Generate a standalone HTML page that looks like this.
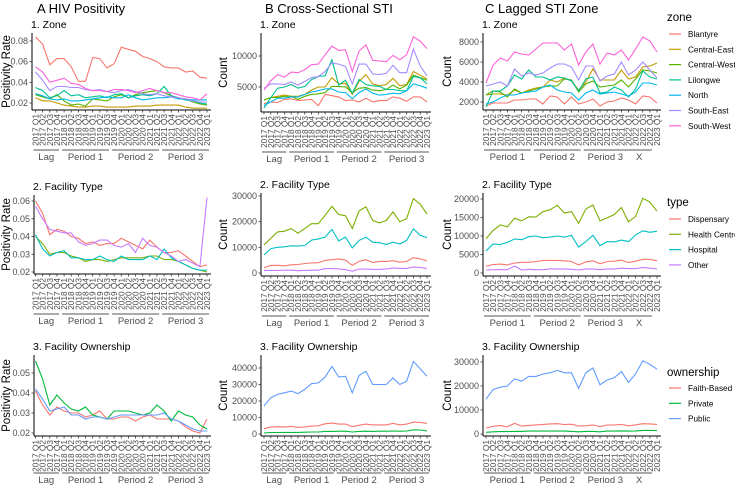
<!DOCTYPE html>
<html><head><meta charset="utf-8"><style>
body{margin:0;background:#fff;}
svg{display:block;font-family:"Liberation Sans",sans-serif;}
</style></head><body>
<svg id="chart" width="735" height="488" viewBox="0 0 735 488" xmlns="http://www.w3.org/2000/svg"></svg>
<script>
const quarters = [];
for (let y=2017;y<=2023;y++) for (let q=1;q<=4;q++) if (!(y===2023&&q>1)) quarters.push(y+" Q"+q);

const zoneNames = ["Blantyre","Central-East","Central-West","Lilongwe","North","South-East","South-West"];
const typeNames = ["Dispensary","Health Centre","Hospital","Other"];
const ownNames = ["Faith-Based","Private","Public"];

const a1Blantyre=[0.084,0.077,0.057,0.063,0.063,0.055,0.041,0.041,0.064,0.063,0.054,0.058,0.074,0.072,0.070,0.065,0.063,0.060,0.055,0.054,0.054,0.050,0.051,0.045,0.044];
const a1CentralEast=[0.025,0.022,0.022,0.020,0.018,0.017,0.016,0.016,0.017,0.017,0.016,0.016,0.016,0.016,0.017,0.017,0.017,0.018,0.018,0.018,0.018,0.016,0.015,0.015,0.015];
const a1CentralWest=[0.028,0.026,0.024,0.028,0.022,0.018,0.019,0.017,0.024,0.023,0.022,0.026,0.028,0.025,0.028,0.030,0.031,0.032,0.030,0.027,0.025,0.024,0.021,0.019,0.018];
const a1Lilongwe=[0.035,0.032,0.025,0.027,0.032,0.027,0.028,0.025,0.026,0.027,0.025,0.028,0.029,0.025,0.027,0.028,0.027,0.029,0.036,0.027,0.025,0.023,0.022,0.020,0.019];
const a1North=[0.029,0.027,0.024,0.023,0.024,0.022,0.022,0.023,0.024,0.025,0.026,0.025,0.025,0.028,0.025,0.023,0.024,0.025,0.025,0.026,0.024,0.024,0.023,0.023,0.023];
const a1SouthEast=[0.050,0.042,0.032,0.036,0.036,0.035,0.035,0.033,0.032,0.033,0.031,0.030,0.032,0.033,0.031,0.029,0.028,0.029,0.027,0.026,0.025,0.024,0.022,0.021,0.021];
const a1SouthWest=[0.055,0.050,0.040,0.042,0.044,0.039,0.038,0.034,0.032,0.032,0.031,0.033,0.033,0.032,0.030,0.032,0.034,0.032,0.030,0.030,0.028,0.026,0.025,0.023,0.029];

const b1Blantyre=[2300,2600,2500,3000,3100,2800,2900,3000,2000,3800,3600,3400,2800,2900,2600,3200,2600,2800,2800,3400,3200,2700,3400,3400,2600];
const b1CentralEast=[2900,3300,3500,3700,3500,3500,3800,4500,5000,5000,6500,5500,5600,3800,5900,7000,5500,5200,5400,6400,5200,5400,7500,6900,6300];
const b1CentralWest=[2900,3300,3300,3500,3500,3000,3500,3800,3900,4100,5100,5100,5000,4100,4800,4900,4500,4400,4600,5300,4700,5300,6900,6500,6100];
const b1Lilongwe=[1600,3300,4800,5000,5400,4800,5100,6200,6700,6800,9400,5300,6100,4000,6200,5400,5200,5100,4600,4600,4400,4400,6700,6500,5500];
const b1North=[2000,2600,3200,3200,3400,3400,3800,4200,4400,4700,4700,4200,4100,3100,4100,4700,4000,3700,3800,4000,3900,4400,5500,5200,4800];
const b1SouthEast=[4800,5500,5500,5400,5800,5300,5900,6500,6700,7500,8900,8700,8300,5500,8700,8700,7100,7000,7200,8500,7300,7300,11100,8400,6800];
const b1SouthWest=[4500,6000,7000,6600,7400,7300,7800,8600,8700,10200,11600,10900,11000,7500,10800,11800,9300,9200,9100,10100,9400,10200,13100,12400,11200];

const c1Blantyre=[1600,1900,1900,1900,2200,2200,2300,2300,1800,2600,2500,1800,2500,1800,2000,2300,1600,2000,2100,2400,2200,1800,2600,2500,1900];
const c1CentralEast=[2700,2800,2800,2700,3200,2900,3200,3400,3500,4200,4000,4400,4100,3200,4000,5300,4200,4200,4200,5200,4300,4500,5500,5600,5900];
const c1CentralWest=[2700,3100,3000,2500,3300,2900,3100,3300,3500,3600,3600,4300,4200,3000,3800,4100,3500,3600,3700,4200,3500,4300,5200,5100,4900];
const c1Lilongwe=[1500,3100,3100,3600,4700,4300,5200,4500,4500,4200,4500,4400,4100,3100,4300,4500,2900,3000,3500,3200,2500,3300,5100,4500,4300];
const c1North=[1800,2000,2400,2700,2700,2900,3000,3100,3500,3700,3200,3000,2900,2200,2900,3200,2800,2900,3000,2800,2600,3000,3900,3900,3700];
const c1SouthEast=[3600,3800,4000,3600,5300,4600,4900,4700,4900,5400,5800,5800,5500,4200,5600,5600,4100,4600,4800,6000,4700,5200,6000,5200,4400];
const c1SouthWest=[3900,5700,6400,6100,7000,6800,6700,7300,7900,7900,7900,7200,7800,5700,7000,7800,5800,6900,6700,7200,6200,7300,8500,8100,7000];

const a2Dispensary=[0.060,0.053,0.041,0.044,0.043,0.040,0.039,0.036,0.037,0.035,0.036,0.036,0.039,0.037,0.035,0.033,0.038,0.034,0.031,0.031,0.032,0.029,0.026,0.023,0.024];
const a2HealthCentre=[0.040,0.036,0.030,0.031,0.031,0.029,0.028,0.026,0.027,0.027,0.026,0.027,0.028,0.028,0.028,0.028,0.029,0.029,0.027,0.027,0.026,0.024,0.022,0.021,0.020];
const a2Hospital=[0.041,0.033,0.029,0.031,0.032,0.028,0.028,0.027,0.027,0.029,0.027,0.026,0.029,0.027,0.027,0.027,0.029,0.027,0.033,0.028,0.026,0.024,0.022,0.021,0.021];
const a2Other=[0.057,0.050,0.044,0.043,0.042,0.042,0.037,0.035,0.036,0.038,0.038,0.035,0.034,0.036,0.031,0.039,0.035,0.034,0.031,0.029,0.026,0.027,0.025,0.023,0.062];

const b2Dispensary=[2000,3000,3000,2800,3200,3300,3700,3900,4000,4900,5200,5500,5000,3000,4500,5200,4100,4500,4500,4800,4200,4500,6000,5500,4700];
const b2HealthCentre=[11000,13500,16000,16300,17300,15500,17300,19200,19200,22500,26000,22800,22300,17300,24200,25800,20500,19500,20500,23800,20000,21200,29000,26800,23000];
const b2Hospital=[7000,9500,10000,10200,10600,10500,10700,12800,13300,14000,17000,12500,14000,9800,12700,14000,12000,11800,11100,12000,11300,12700,17200,14700,13800];
const b2Other=[1000,1000,1000,1100,1100,900,1000,1100,1100,1700,1700,1600,1300,700,1500,1500,1400,1400,1600,2000,1800,1800,2300,2200,1700];

const c2Dispensary=[1800,2300,2400,2200,2700,2900,2900,3100,3400,3400,3400,3300,3100,2200,3000,3300,2500,3100,3200,3500,2800,3200,3700,3700,3300];
const c2HealthCentre=[9300,11500,13000,12500,14800,14100,15200,15100,16600,17100,18300,16200,16600,13400,17300,18400,14100,14900,15800,17700,13800,15300,20200,19200,16700];
const c2Hospital=[6000,7800,7700,8300,9200,9000,9800,10000,9500,9700,10000,9700,10200,7000,8500,10200,7400,8500,8400,8900,8500,10300,11400,11000,11300];
const c2Other=[800,900,900,900,1900,800,1000,900,900,1100,1100,1100,1000,800,1100,1100,900,1100,1100,1300,1200,1200,1500,1300,1100];

const a3FaithBased=[0.041,0.034,0.029,0.033,0.031,0.030,0.030,0.028,0.029,0.031,0.027,0.027,0.028,0.028,0.026,0.028,0.029,0.027,0.027,0.027,0.026,0.023,0.021,0.020,0.027];
const a3Private=[0.056,0.047,0.034,0.039,0.035,0.032,0.031,0.033,0.029,0.028,0.027,0.031,0.031,0.031,0.030,0.029,0.030,0.034,0.031,0.026,0.031,0.029,0.028,0.024,0.022];
const a3Public=[0.042,0.037,0.031,0.032,0.033,0.029,0.029,0.027,0.028,0.028,0.027,0.028,0.029,0.029,0.029,0.029,0.029,0.029,0.030,0.027,0.026,0.024,0.022,0.021,0.021];

const b3FaithBased=[3200,4200,4400,4300,4600,4000,4300,4800,5000,6200,6600,6000,6000,4500,5300,6000,5500,5500,5500,6500,5500,6000,7200,7000,6400];
const b3Private=[600,900,900,1000,1000,1000,1100,1200,1200,1600,1600,1700,1700,1200,1600,1700,1600,1700,1700,1800,1700,1800,2500,2400,1900];
const b3Public=[17000,22000,24000,25000,26000,24500,27000,30500,31000,34500,41000,34500,35000,25000,35500,38000,30000,30000,30000,34000,30000,32000,44000,39500,35000];

const c3FaithBased=[2500,3200,3500,3000,4400,3300,3600,3800,4000,4200,4300,3900,4100,3300,3400,3800,3100,3700,3800,4000,3400,3800,4300,4200,4000];
const c3Private=[700,900,1000,1000,1100,1100,1200,1200,1200,1200,1200,1200,1100,900,1100,1100,900,1200,1200,1300,1200,1300,1500,1500,1400];
const c3Public=[14500,18500,19500,20000,23000,22000,24000,24000,25000,25500,26500,25500,25500,19000,25500,27500,20500,22500,23500,26000,21500,25000,30500,29000,27000];

const ticksA1=[0.02,0.04,0.06,0.08];
const ticksB1=[5000,10000];
const ticksC1=[2000,4000,6000,8000];
const ticksA2=[0.02,0.03,0.04,0.05,0.06];
const ticksB2=[0,10000,20000,30000];
const ticksC2=[0,5000,10000,15000,20000];
const ticksA3=[0.02,0.03,0.04,0.05];
const ticksB3=[0,10000,20000,30000,40000];
const ticksC3=[0,10000,20000,30000];

const periodsAB=[["Lag",0,3],["Period 1",4,10],["Period 2",11,17],["Period 3",18,24]];
const periodsC=[["Period 1",0,6],["Period 2",7,13],["Period 3",14,19.5],["X",20,23]];

const zoneCols=["#F8766D","#C49A00","#53B400","#00C094","#00B6EB","#A58AFF","#FB61D7"];
const typeCols=["#F8766D","#7CAE00","#00BFC4","#C77CFF"];
const ownCols=["#F8766D","#00BA38","#619CFF"];

const svg=document.getElementById('chart');
const NS="http://www.w3.org/2000/svg";
function mk(tag,attrs,parent){const e=document.createElementNS(NS,tag);for(const k in attrs)e.setAttribute(k,attrs[k]);(parent||svg).appendChild(e);return e;}
function txt(s,attrs,parent){const e=mk('text',attrs,parent);e.textContent=s;return e;}

const headers=[["A  HIV Positivity",37],["B  Cross-Sectional STI",265],["C  Lagged STI Zone",485]];
headers.forEach(h=>{const t=txt(h[0],{x:h[1],y:13,'font-size':13,fill:'#000','xml:space':'preserve'});

});

function fmt(v,dec){return dec?v.toFixed(2):String(v);}

function panel(cfg){
  const g=mk('g',{});
  
  
  const n=quarters.length;
  const xs=i=>cfg.x1+(cfg.x2-cfg.x1)*i/(n-1);
  const ys=v=>cfg.p1+(v-cfg.v1)*(cfg.p2-cfg.p1)/(cfg.v2-cfg.v1);
  const st=txt(cfg.sub,{x:cfg.ax-1,y:cfg.top-5,'font-size':10.5,fill:'#000'},g);
  
  
  cfg.series.forEach((s,k)=>{
    const d=s.map((v,i)=>(i?'L':'M')+xs(i).toFixed(1)+','+ys(v).toFixed(1)).join('');
    const p=mk('path',{d:d,fill:'none',stroke:cfg.cols[k],'stroke-width':1.1},g);
    
    
  });
  const ya=mk('line',{x1:cfg.ax,y1:cfg.top,x2:cfg.ax,y2:cfg.bot,stroke:'#000','stroke-width':1},g);
  
  
  const xa=mk('line',{x1:cfg.ax,y1:cfg.bot,x2:cfg.x2+4,y2:cfg.bot,stroke:'#000','stroke-width':1},g);
  
  
  cfg.ticks.forEach(t=>{
    const y=ys(t);
    mk('line',{x1:cfg.ax-2.5,y1:y,x2:cfg.ax,y2:y,stroke:'#333','stroke-width':0.8},g);
    const tl=txt(fmt(t,cfg.dec),{x:cfg.ax-4,y:y+3,'font-size':9,fill:'#4d4d4d','text-anchor':'end'},g);
    
    
  });
  quarters.forEach((q,i)=>{
    const x=xs(i);
    mk('line',{x1:x,y1:cfg.bot,x2:x,y2:cfg.bot+2.5,stroke:'#333','stroke-width':0.8},g);
    const tl=txt(q,{x:0,y:0,'font-size':8.3,fill:'#4d4d4d','text-anchor':'end',transform:`translate(${(x+3).toFixed(1)},${cfg.bot+4}) rotate(-90)`},g);
    
    
  });
  const off=cfg.boff||40;
  cfg.periods.forEach(p=>{
    const xa1=xs(p[1])-2,xa2=xs(p[2])+2,yb=cfg.bot+off;
    const l=mk('line',{x1:xa1,y1:yb,x2:xa2,y2:yb,stroke:'#555','stroke-width':1},g);
    
    
    const t=txt(p[0],{x:(xa1+xa2)/2,y:yb+10,'font-size':9.5,fill:'#4d4d4d','text-anchor':'middle'},g);
    
    
  });
  if(cfg.ytitle){
    const yt=txt(cfg.ytitle,{x:0,y:0,'font-size':11.5,fill:'#000','text-anchor':'middle',transform:`translate(${cfg.ytx},${(cfg.top+cfg.bot)/2}) rotate(-90)`},g);
    
    
  }
}

const A={x1:35.5,x2:207};const B={x1:264,x2:427};const C={x1:486,x2:657};
panel({name:'panel-a1',sub:'1. Zone',ax:32,...A,top:33,bot:110,v1:0.08,p1:41,v2:0.02,p2:103,dec:true,ticks:ticksA1,series:[a1Blantyre,a1CentralEast,a1CentralWest,a1Lilongwe,a1North,a1SouthEast,a1SouthWest],cols:zoneCols,labels:zoneNames,periods:periodsAB,ytitle:'Positivity Rate',ytx:10});
panel({name:'panel-b1',sub:'1. Zone',ax:261,...B,top:33,bot:112,v1:10000,p1:56,v2:5000,p2:87,dec:false,ticks:ticksB1,series:[b1Blantyre,b1CentralEast,b1CentralWest,b1Lilongwe,b1North,b1SouthEast,b1SouthWest],cols:zoneCols,labels:zoneNames,periods:periodsAB,ytitle:'Count',ytx:227});
panel({name:'panel-c1',sub:'1. Zone',ax:483,...C,top:33,bot:110,v1:8000,p1:42,v2:2000,p2:102,dec:false,ticks:ticksC1,series:[c1Blantyre,c1CentralEast,c1CentralWest,c1Lilongwe,c1North,c1SouthEast,c1SouthWest],cols:zoneCols,labels:zoneNames,periods:periodsC,ytitle:'Count',ytx:451});

panel({name:'panel-a2',sub:'2. Facility Type',ax:34,...A,top:195,bot:274,v1:0.06,p1:201,v2:0.02,p2:272,dec:true,ticks:ticksA2,series:[a2Dispensary,a2HealthCentre,a2Hospital,a2Other],cols:typeCols,labels:typeNames,periods:periodsAB,ytitle:'Positivity Rate',ytx:10});
panel({name:'panel-b2',sub:'2. Facility Type',ax:261,...B,top:193,bot:276,v1:30000,p1:196,v2:0,p2:273,dec:false,ticks:ticksB2,series:[b2Dispensary,b2HealthCentre,b2Hospital,b2Other],cols:typeCols,labels:typeNames,periods:periodsAB,ytitle:'Count',ytx:227});
panel({name:'panel-c2',sub:'2. Facility Type',ax:483,...C,top:193,bot:276,v1:20000,p1:199,v2:0,p2:273,dec:false,ticks:ticksC2,series:[c2Dispensary,c2HealthCentre,c2Hospital,c2Other],cols:typeCols,labels:typeNames,periods:periodsC,ytitle:'Count',ytx:451});

panel({name:'panel-a3',sub:'3. Facility Ownership',ax:34,...A,top:355,bot:436,v1:0.05,p1:373,v2:0.02,p2:433,dec:true,ticks:ticksA3,series:[a3FaithBased,a3Private,a3Public],cols:ownCols,labels:ownNames,periods:periodsAB,ytitle:'Positivity Rate',ytx:10,boff:37});
panel({name:'panel-b3',sub:'3. Facility Ownership',ax:261,...B,top:355,bot:436,v1:40000,p1:368,v2:0,p2:434,dec:false,ticks:ticksB3,series:[b3FaithBased,b3Private,b3Public],cols:ownCols,labels:ownNames,periods:periodsAB,ytitle:'Count',ytx:227,boff:37});
panel({name:'panel-c3',sub:'3. Facility Ownership',ax:483,...C,top:355,bot:436,v1:30000,p1:362,v2:0,p2:434,dec:false,ticks:ticksC3,series:[c3FaithBased,c3Private,c3Public],cols:ownCols,labels:ownNames,periods:periodsC,ytitle:'Count',ytx:451,boff:37});

function legend(title,names,cols,ty,ey){
  const g=mk('g',{});
  
  
  const t=txt(title,{x:667,y:ty,'font-size':11.5,fill:'#000'},g);
  
  
  names.forEach((n,i)=>{
    const y=ey+i*15.3;
    const l=mk('line',{x1:669,y1:y,x2:681,y2:y,stroke:cols[i],'stroke-width':1.2},g);
    
    
    const lt=txt(n,{x:688,y:y+3,'font-size':8.2,fill:'#000'},g);
    
    
  });
}
legend('zone',zoneNames,zoneCols,21,34);
legend('type',typeNames,typeCols,206,219);
legend('ownership',ownNames,ownCols,376,388);
</script>
</body></html>
